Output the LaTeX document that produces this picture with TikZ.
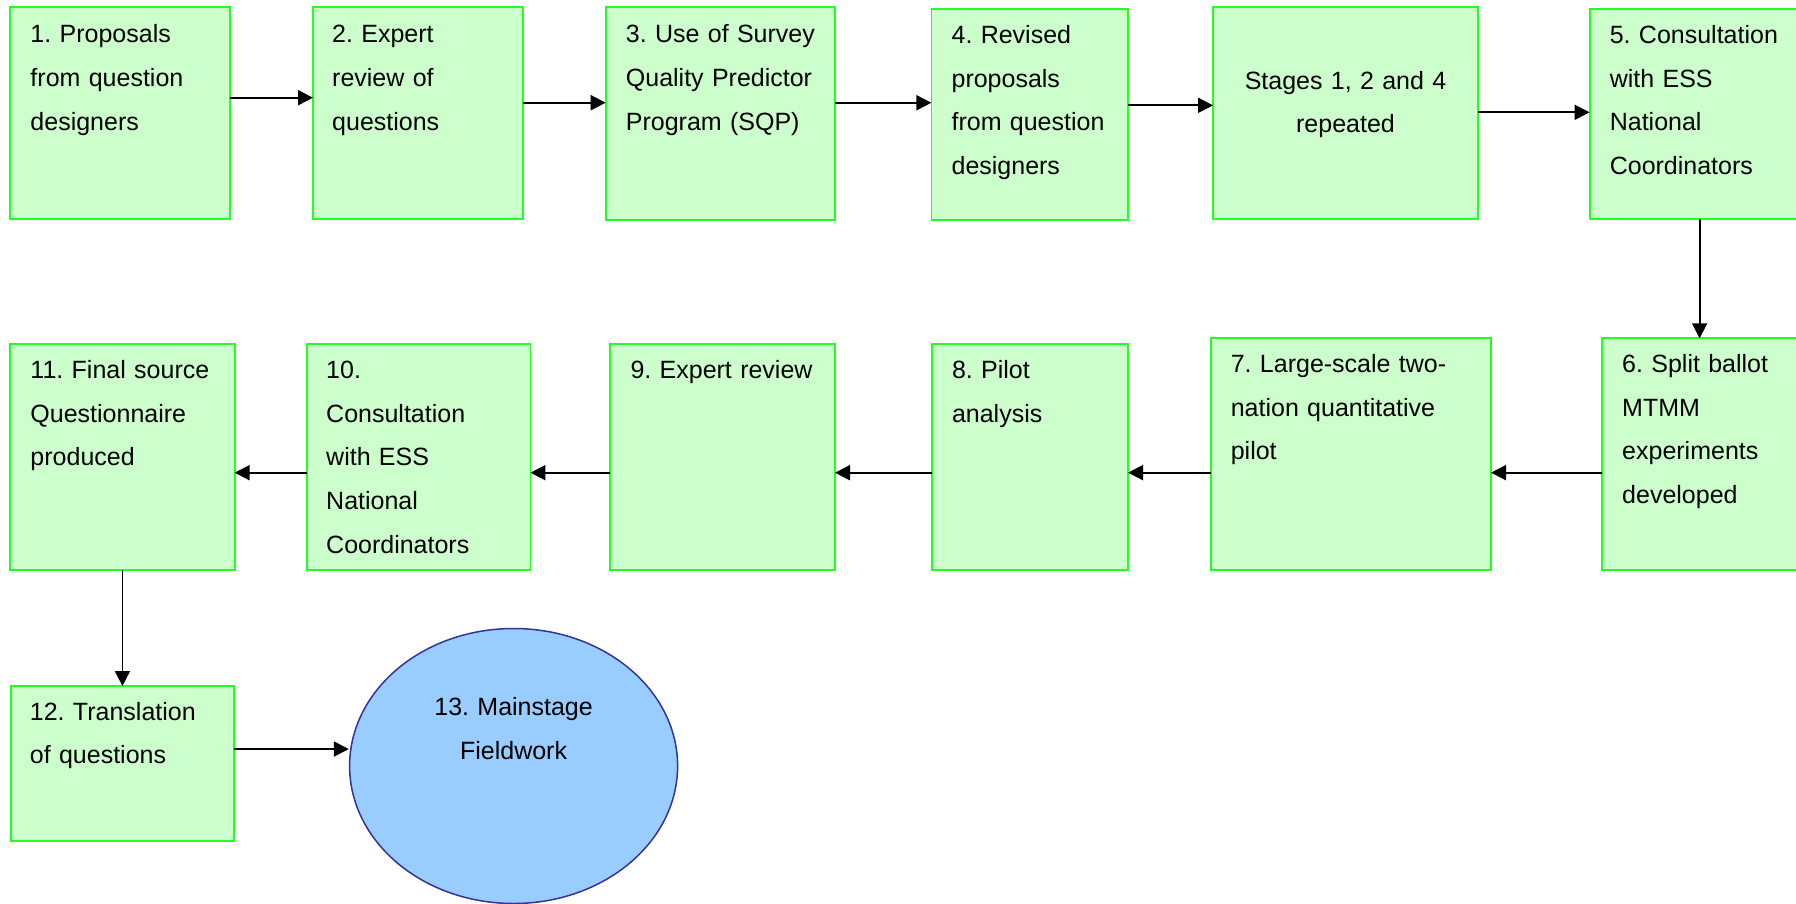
\documentclass[tikz,border=0pt]{standalone}
\usepackage{fontspec}
\setmainfont{Liberation Sans}
\usetikzlibrary{arrows.meta,shapes.geometric}
\definecolor{boxfill}{HTML}{CCFFCC}
\definecolor{boxline}{HTML}{22FF22}
\definecolor{ellfill}{HTML}{99CCFF}
\definecolor{ellline}{HTML}{333399}
\frenchspacing
\tikzset{
  box/.style={draw=boxline, fill=boxfill, line width=1.8pt, inner sep=0pt, outer sep=0pt, anchor=north west},
  txt/.style={anchor=base west, inner sep=0pt, text width=270pt, align=left, font=\fontsize{25}{43.7}\selectfont\frenchspacing},
  ctxt/.style={anchor=base, inner sep=0pt, text width=280pt, align=center, font=\fontsize{25}{43.7}\selectfont\frenchspacing},
  arr/.style={line width=1.9pt, -{Triangle[length=15pt,width=15pt]}},
}
\begin{document}
\begin{tikzpicture}[x=1pt,y=-1pt]
\path[use as bounding box] (0,0) rectangle (1796,903);
\clip (0,0) rectangle (1796,903);
% boxes
\node[box, minimum width=219.3pt, minimum height=212pt] (b1) at (10.3,7.3) {};
\node[box, minimum width=209.8pt, minimum height=212pt] (b2) at (313,7.3) {};
\node[box, minimum width=229.3pt, minimum height=212.7pt] (b3) at (605.7,7.3) {};
\node[box, minimum width=196.6pt, minimum height=210.7pt] (b4) at (931.4,9.3) {};
\node[box, minimum width=265pt, minimum height=212pt] (bS) at (1213,7.3) {};
\node[box, minimum width=220pt, minimum height=210pt] (b5) at (1589.6,9.3) {};
\node[box, minimum width=210pt, minimum height=231.7pt] (b6) at (1602,338.3) {};
\node[box, minimum width=280.4pt, minimum height=231.7pt] (b7) at (1210.6,338.3) {};
\node[box, minimum width=196.2pt, minimum height=226pt] (b8) at (931.8,344) {};
\node[box, minimum width=224.7pt, minimum height=226pt] (b9) at (610.3,344) {};
\node[box, minimum width=223.4pt, minimum height=226pt] (b10) at (307,344) {};
\node[box, minimum width=224.3pt, minimum height=226pt] (b11) at (10.3,344) {};
\node[box, minimum width=223.3pt, minimum height=154.7pt] (b12) at (10.7,686) {};
\node[ellipse, draw=ellline, fill=ellfill, line width=1.5pt, inner sep=0pt, minimum width=328pt, minimum height=275pt] (e13) at (513.6,766) {};
% texts
\node[txt] (t1) at ([shift={(20pt,-35.5pt)}]b1.north west) {1. Proposals\\from question\\designers};
\node[txt] (t2) at ([shift={(19pt,-35.5pt)}]b2.north west) {2. Expert\\review of\\questions};
\node[txt] (t3) at ([shift={(20pt,-35.5pt)}]b3.north west) {3. Use of Survey\\Quality Predictor\\Program (SQP)};
\node[txt] (t4) at ([shift={(20pt,-34pt)}]b4.north west) {4. Revised\\proposals\\from question\\designers};
\node[ctxt] (tS) at ([yshift=-81.7pt]bS.north) {Stages 1, 2 and 4\\repeated};
\node[txt] (t5) at ([shift={(20pt,-34pt)}]b5.north west) {5. Consultation\\with ESS\\National\\Coordinators};
\node[txt] (t6) at ([shift={(20pt,-34pt)}]b6.north west) {6. Split ballot\\MTMM\\experiments\\developed};
\node[txt] (t7) at ([shift={(20pt,-34pt)}]b7.north west) {7. Large-scale two-\\nation quantitative\\pilot};
\node[txt] (t8) at ([shift={(20pt,-34.3pt)}]b8.north west) {8. Pilot\\analysis};
\node[txt] (t9) at ([shift={(20pt,-34.3pt)}]b9.north west) {9. Expert review};
\node[txt] (t10) at ([shift={(19pt,-34.3pt)}]b10.north west) {10.\\Consultation\\with ESS\\National\\Coordinators};
\node[txt] (t11) at ([shift={(20pt,-34.3pt)}]b11.north west) {11. Final source\\Questionnaire\\produced};
\node[txt] (t12) at ([shift={(19pt,-34pt)}]b12.north west) {12. Translation\\of questions};
\node[ctxt] (t13) at ([yshift=-87.7pt]e13.north) {13. Mainstage\\Fieldwork};
% connectors
\draw[arr] ([yshift=15.6pt]b1.east) -- ([yshift=15.6pt]b1.east -| b2.west);
\draw[arr] ([yshift=10.6pt]b2.east) -- ([yshift=10.6pt]b2.east -| b3.west);
\draw[arr] ([yshift=10.9pt]b3.east) -- ([yshift=10.9pt]b3.east -| b4.west);
\draw[arr] ([yshift=9.3pt]b4.east) -- ([yshift=9.3pt]b4.east -| bS.west);
\draw[arr] ([yshift=1pt]bS.east) -- ([yshift=1pt]bS.east -| b5.west);
\draw[arr] (b5.south) -- (b5.south |- b6.north);
\draw[arr] ([yshift=-18.5pt]b6.west) -- ([yshift=-18.5pt]b6.west -| b7.east);
\draw[arr] ([yshift=-18.5pt]b7.west) -- ([yshift=-18.5pt]b7.west -| b8.east);
\draw[arr] ([yshift=-15.7pt]b8.west) -- ([yshift=-15.7pt]b8.west -| b9.east);
\draw[arr] ([yshift=-15.7pt]b9.west) -- ([yshift=-15.7pt]b9.west -| b10.east);
\draw[arr] ([yshift=-15.7pt]b10.west) -- ([yshift=-15.7pt]b10.west -| b11.east);
\draw[arr] (b11.south) -- (b11.south |- b12.north);
\draw[arr] ([yshift=14.3pt]b12.east) -- ([yshift=14.3pt]b12.east -| e13.west);
\end{tikzpicture}
\end{document}
